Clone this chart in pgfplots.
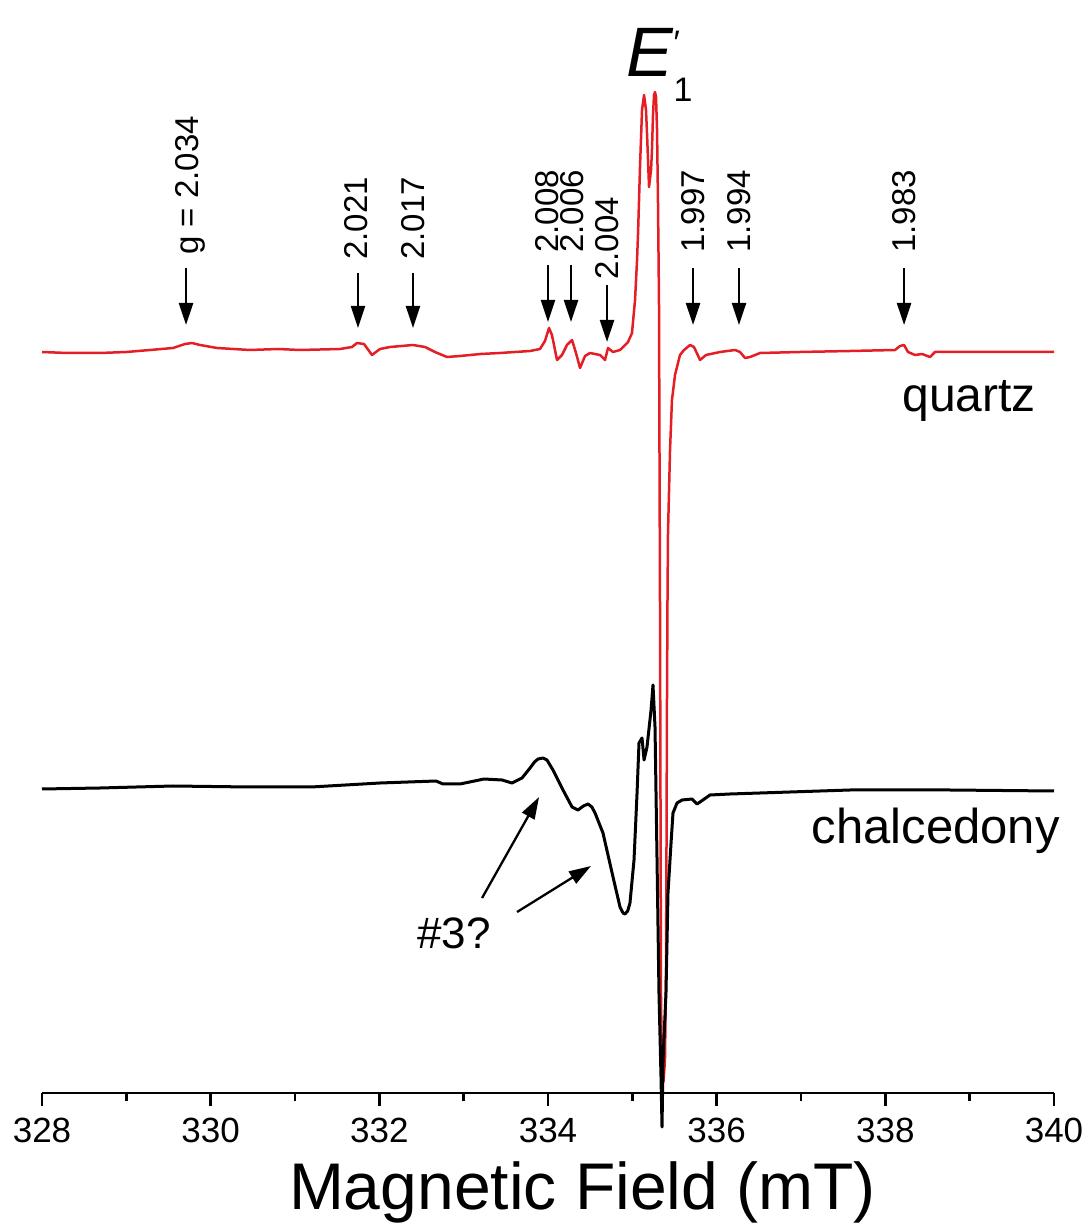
\documentclass[border=0pt]{standalone}
\usepackage{pgfplots}
\pgfplotsset{compat=1.18}
\usepackage{fontspec}
\setmainfont{Liberation Sans}
\usetikzlibrary{arrows.meta}
\definecolor{epred}{RGB}{228,30,36}

% 1 px of the reference = 0.5pt; y data are "px above the field axis"
\pgfplotstableread{
B y
328.000 741
328.300 740
328.688 740
329.000 741
329.281 743
329.553 745
329.696 749
329.779 750
329.874 748
330.075 745
330.466 743
330.800 744
331.059 743
331.534 744
331.676 746
331.735 750
331.818 749
331.913 738
332.008 744
332.127 746
332.399 748
332.542 746
332.660 741
332.802 736
332.957 737
333.200 739
333.431 740
333.787 742
333.905 744
333.964 752
334.012 765
334.047 758
334.107 733
334.166 738
334.225 748
334.285 753
334.332 740
334.380 725
334.439 737
334.498 740
334.617 738
334.676 733
334.712 745
334.771 741
334.854 743
334.949 751
334.996 760
335.032 793
335.056 833
335.068 860
335.091 926
335.115 983
335.139 998
335.162 983
335.174 960
335.198 906
335.222 923
335.233 943
335.245 978
335.257 998
335.269 1001
335.281 996
335.293 963
335.304 893
335.316 793
335.322 643
335.328 493
335.334 293
335.340 93
335.352 23
335.369 11
335.387 33
335.399 113
335.405 243
335.411 393
335.417 493
335.423 560
335.447 643
335.470 693
335.506 718
335.530 726
335.565 738
335.613 743
335.684 748
335.731 746
335.803 733
335.874 738
336.040 741
336.218 743
336.277 741
336.336 735
336.396 736
336.514 740
336.989 741
337.581 742
338.115 743
338.174 747
338.222 748
338.269 741
338.352 738
338.435 739
338.530 736
338.589 741
339.000 741
339.360 741
340.000 741
}\quartz

\pgfplotstableread{
B y
328.000 304
328.688 305
329.553 307
330.466 306
331.190 306
332.008 310
332.672 312
332.755 309
332.957 309
333.241 314
333.455 313
333.573 310
333.692 315
333.787 325
333.840 331
333.882 334
333.940 335
333.988 333
334.059 323
334.178 303
334.285 286
334.356 283
334.420 287
334.475 289
334.520 286
334.558 280
334.652 260
334.771 216
334.854 186
334.890 180
334.913 179
334.945 182
334.972 190
335.020 233
335.056 300
335.079 350
335.115 355
335.139 333
335.174 346
335.222 383
335.245 408
335.269 366
335.293 233
335.316 100
335.340 16
335.352 -34
335.364 33
335.399 100
335.423 200
335.459 250
335.482 280
335.530 290
335.589 293
335.708 294
335.767 289
335.803 291
335.921 298
336.158 299
336.514 300
337.581 303
338.767 303
340.000 302
}\chalcedony

\begin{document}
\begin{tikzpicture}
\begin{axis}[
  scale only axis,
  width=506pt, height=546.5pt,
  xmin=328, xmax=340, ymin=0, ymax=1093,
  clip=false,
  axis x line*=bottom,
  hide y axis,
  x axis line style={-, line width=1.2pt},
  xtick={328,330,...,340},
  minor x tick num=1,
  xtick pos=bottom,
  tick align=outside,
  major tick length=6.5pt,
  minor tick length=4pt,
  every tick/.style={black, line width=1.2pt},
  /pgf/number format/assume math mode=true,
  xticklabel style={font=\fontsize{17.5}{17.5}\selectfont, yshift=-2.5pt},
  xlabel={Magnetic Field (mT)},
  xlabel style={font=\fontsize{33}{33}\selectfont,
    at={(axis description cs:0.534,0)}, anchor=north, yshift=-31pt},
]
\addplot[epred, line width=1.25pt, line join=round] table[x=B, y=y] {\quartz};
\addplot[black, line width=1.5pt, line join=round] table[x=B, y=y] {\chalcedony};

% g-value markers
\begin{scope}[line width=1.15pt, -{Triangle[length=11pt,width=7pt]}]
\draw (axis cs:329.708,825) -- (axis cs:329.708,768);
\draw (axis cs:331.747,820) -- (axis cs:331.747,765);
\draw (axis cs:332.399,820) -- (axis cs:332.399,765);
\draw (axis cs:334.000,828) -- (axis cs:334.000,771);
\draw (axis cs:334.273,828) -- (axis cs:334.273,771);
\draw (axis cs:334.700,808) -- (axis cs:334.700,751);
\draw (axis cs:335.720,825) -- (axis cs:335.720,768);
\draw (axis cs:336.265,825) -- (axis cs:336.265,768);
\draw (axis cs:338.222,825) -- (axis cs:338.222,768);
\draw (axis cs:333.218,195) -- (axis cs:333.894,296);
\draw (axis cs:333.633,181) -- (axis cs:334.510,227);
\end{scope}
\begin{scope}[every node/.style={rotate=90, anchor=west, inner sep=0pt,
    font=\fontsize{16.5}{16.5}\selectfont}]
\node at (axis cs:329.760,838) {g = 2.034};
\node at (axis cs:331.720,833) {2.021};
\node at (axis cs:332.399,833) {2.017};
\node at (axis cs:333.990,840) {2.008};
\node at (axis cs:334.283,840) {2.006};
\node at (axis cs:334.700,813) {2.004};
\node at (axis cs:335.720,840) {1.997};
\node at (axis cs:336.265,840) {1.994};
\node at (axis cs:338.222,840) {1.983};
\end{scope}

\node[anchor=base west, inner sep=0pt, font=\fontsize{24}{24}\selectfont]
  at (axis cs:338.198,681) {quartz};
\node[anchor=base east, inner sep=0pt, font=\fontsize{24.5}{24.5}\selectfont]
  at (axis cs:340.072,250) {chalcedony};
\node[anchor=base west, inner sep=0pt, font=\fontsize{22}{22}\selectfont]
  at (axis cs:332.447,145) {\#3?};
\node[anchor=base west, inner sep=0pt]
  at (axis cs:334.930,1016) {\fontsize{35}{35}\selectfont\itshape E\upshape
  \rlap{\raisebox{11pt}{\fontsize{17}{17}\selectfont\symbol{"2032}}}%
  \raisebox{-12.5pt}{\fontsize{17}{17}\selectfont 1}};

\coordinate (bbsw) at (axis cs:327.502,-134);
\coordinate (bbne) at (axis cs:340.439,1093);
\end{axis}
\pgfresetboundingbox
\path (bbsw) rectangle (bbne);
\end{tikzpicture}
\end{document}
